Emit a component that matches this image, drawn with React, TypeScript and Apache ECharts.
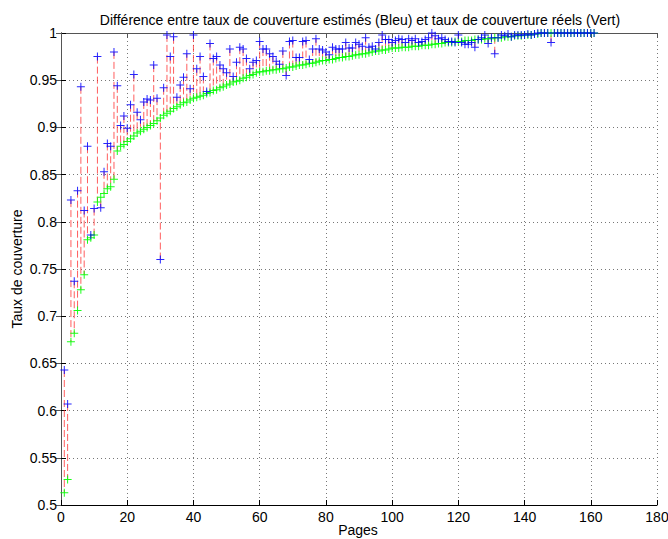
import React, { useEffect, useRef } from "react";
import * as echarts from "echarts";

const titleText = "Différence entre taux de couverture estimés (Bleu) et taux de couverture réels (Vert)";
const xName = "Pages";
const yName = "Taux de couverture";

// Real coverage (green), pages 1..161
const realCoverage: number[] = [
  0.513, 0.527, 0.673, 0.682, 0.706, 0.728, 0.744, 0.781, 0.783, 0.786,
  0.821, 0.826, 0.830, 0.835, 0.837, 0.845, 0.875, 0.880, 0.882, 0.885,
  0.888, 0.891, 0.894, 0.896, 0.898, 0.900, 0.902, 0.904, 0.907, 0.910,
  0.913, 0.915, 0.917, 0.920, 0.922, 0.924, 0.926, 0.927, 0.929, 0.931,
  0.932, 0.933, 0.934, 0.936, 0.937, 0.939, 0.940, 0.942, 0.943, 0.945,
  0.946, 0.948, 0.949, 0.950, 0.952, 0.953, 0.955, 0.956, 0.958, 0.959,
  0.959, 0.960, 0.960, 0.961, 0.961, 0.962, 0.962, 0.963, 0.964, 0.964,
  0.965, 0.966, 0.966, 0.967, 0.968, 0.968, 0.969, 0.970, 0.971, 0.971,
  0.972, 0.972, 0.973, 0.974, 0.974, 0.975, 0.975, 0.976, 0.977, 0.977,
  0.978, 0.978, 0.979, 0.980, 0.981, 0.981, 0.982, 0.982, 0.983, 0.984,
  0.984, 0.984, 0.985, 0.985, 0.985, 0.986, 0.986, 0.986, 0.987, 0.987,
  0.987, 0.988, 0.988, 0.989, 0.989, 0.990, 0.990, 0.990, 0.991, 0.991,
  0.991, 0.992, 0.992, 0.992, 0.993, 0.993, 0.993, 0.994, 0.994, 0.994,
  0.995, 0.995, 0.995, 0.996, 0.996, 0.996, 0.997, 0.997, 0.997, 0.998,
  0.998, 0.998, 0.999, 0.999, 1.0, 1.0, 1.0, 1.0, 1.0, 1.0,
  1.0, 1.0, 1.0, 1.0, 1.0, 1.0, 1.0, 1.0, 1.0, 1.0,
  1.0,
];

// Estimated coverage (blue), pages 1..161
const estimatedCoverage: number[] = [
  0.643, 0.607, 0.823, 0.737, 0.833, 0.943, 0.812, 0.880, 0.786, 0.814,
  0.975, 0.815, 0.853, 0.883, 0.880, 0.980, 0.944, 0.902, 0.912, 0.899,
  0.924, 0.956, 0.916, 0.908, 0.927, 0.930, 0.929, 0.966, 0.931, 0.760,
  0.942, 0.998, 0.975, 0.996, 0.932, 0.945, 0.953, 0.978, 0.941, 0.998,
  0.962, 0.975, 0.954, 0.938, 0.989, 0.973, 0.975, 0.966, 0.962, 0.958,
  0.983, 0.954, 0.969, 0.985, 0.983, 0.973, 0.962, 0.969, 0.971, 0.991,
  0.983, 0.983, 0.978, 0.975, 0.970, 0.967, 0.981, 0.955, 0.991, 0.992,
  0.974, 0.974, 0.991, 0.992, 0.972, 0.983, 0.994, 0.983, 0.982, 0.980,
  0.977, 0.985, 0.983, 0.983, 0.983, 0.990, 0.984, 0.984, 0.990, 0.988,
  0.986, 0.995, 0.985, 0.986, 0.983, 0.990, 0.998, 0.993, 0.993, 0.990,
  0.992, 0.994, 0.993, 0.990, 0.994, 0.992, 0.994, 0.990, 0.991, 0.993,
  0.995, 1.0, 0.997, 0.994, 0.995, 0.993, 0.991, 0.991, 0.990, 0.998,
  0.990, 0.988, 0.988, 0.990, 0.985, 0.993, 0.995, 0.998, 0.989, 0.995,
  0.978, 0.995, 0.998, 0.997, 0.999, 0.996, 0.998, 0.998, 0.998, 0.998,
  0.999, 0.998, 0.999, 1.0, 1.0, 1.0, 1.0, 0.990, 1.0, 1.0,
  1.0, 1.0, 1.0, 1.0, 1.0, 1.0, 1.0, 1.0, 1.0, 1.0,
  1.0,
];

const pages: number[] = realCoverage.map((_, i) => i + 1);

const plusSymbol = "path://M0,3.5H8V4.5H0ZM3.5,0H4.5V8H3.5Z";
const FONT = "'Liberation Sans', Arial, Helvetica, sans-serif";

export default function App() {
  const ref = useRef<HTMLDivElement>(null);

  useEffect(() => {
    if (!ref.current) return;
    const chart = echarts.init(ref.current, undefined, { renderer: "svg" });

    const lineData = pages.map((p, i) => [p, estimatedCoverage[i], realCoverage[i]]);
    const greenData = pages.map((p, i) => [p, realCoverage[i]]);
    const blueData = pages.map((p, i) => [p, estimatedCoverage[i]]);

    const fmtY = (v: number) => String(Number(v.toFixed(2)));

    chart.setOption({
      animation: false,
      backgroundColor: "#ffffff",
      textStyle: { fontFamily: FONT },
      title: {
        text: titleText,
        left: 355,
        top: 8,
        textAlign: "center",
        textStyle: { fontFamily: FONT, fontSize: 14, fontWeight: "normal", color: "#000" },
      },
      graphic: [
        {
          type: "text",
          x: 358,
          y: 530,
          style: {
            text: xName,
            align: "center",
            verticalAlign: "middle",
            fontFamily: FONT,
            fontSize: 14,
            fill: "#000",
          },
        },
        {
          type: "text",
          x: 17,
          y: 269,
          rotation: Math.PI / 2,
          style: {
            text: yName,
            align: "center",
            verticalAlign: "middle",
            fontFamily: FONT,
            fontSize: 14,
            fill: "#000",
          },
        },
      ],
      grid: {
        left: 61,
        right: 11,
        top: 33,
        bottom: 34,
        containLabel: false,
        outerBoundsMode: "none",
      },
      xAxis: [
        {
          type: "value",
          min: 0,
          max: 180,
          interval: 20,
          axisLine: { show: true, lineStyle: { color: "#000", width: 1 } },
          axisTick: { show: true, inside: true, length: 5, lineStyle: { color: "#000" } },
          axisLabel: { fontFamily: FONT, fontSize: 14, color: "#000", margin: 5, hideOverlap: false },
          splitLine: { show: true, lineStyle: { color: "#777", type: [1, 3], width: 1 } },
        },
        {
          type: "value",
          position: "top",
          min: 0,
          max: 180,
          interval: 20,
          axisLine: { show: true, lineStyle: { color: "#555", width: 1 } },
          axisTick: { show: true, inside: true, length: 5, lineStyle: { color: "#555" } },
          axisLabel: { show: false },
          splitLine: { show: false },
        },
      ],
      yAxis: [
        {
          type: "value",
          min: 0.5,
          max: 1,
          interval: 0.05,
          axisLine: { show: true, lineStyle: { color: "#000", width: 1 } },
          axisTick: { show: true, inside: true, length: 5, lineStyle: { color: "#000" } },
          axisLabel: { fontFamily: FONT, fontSize: 14, color: "#000", margin: 4, formatter: fmtY },
          splitLine: { show: true, lineStyle: { color: "#777", type: [1, 3], width: 1 } },
        },
        {
          type: "value",
          position: "right",
          min: 0.5,
          max: 1,
          interval: 0.05,
          axisLine: { show: true, lineStyle: { color: "#555", width: 1 } },
          axisTick: { show: true, inside: true, length: 5, lineStyle: { color: "#555" } },
          axisLabel: { show: false },
          splitLine: { show: false },
        },
      ],
      series: [
        {
          type: "custom",
          xAxisIndex: 0,
          yAxisIndex: 0,
          data: lineData,
          encode: { x: 0, y: [1, 2] },
          silent: true,
          renderItem: (params: any, api: any) => {
            const x = api.value(0);
            const a = api.coord([x, api.value(1)]);
            const b = api.coord([x, api.value(2)]);
            return {
              type: "line",
              shape: { x1: a[0], y1: a[1], x2: b[0], y2: b[1] },
              style: { stroke: "rgba(255,40,40,0.75)", lineWidth: 1, lineDash: [7, 3] },
            };
          },
          z: 1,
        },
        {
          type: "scatter",
          name: "Vert",
          data: greenData,
          symbol: plusSymbol,
          symbolSize: 8,
          itemStyle: { color: "#00ff00", opacity: 0.9 },
          z: 2,
        },
        {
          type: "scatter",
          name: "Bleu",
          data: blueData,
          symbol: plusSymbol,
          symbolSize: 8,
          itemStyle: { color: "#0000ff", opacity: 0.85 },
          z: 3,
        },
      ],
    });

    return () => chart.dispose();
  }, []);

  return (
    <div
      ref={ref}
      style={{ position: "absolute", left: 0, top: 0, width: 668, height: 539, background: "#fff" }}
    />
  );
}
